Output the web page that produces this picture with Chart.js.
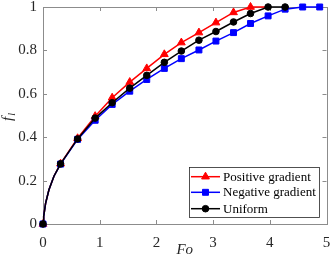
<!DOCTYPE html>
<html lang="en">
<head>
<meta charset="UTF-8">
<title>Fo vs fl</title>
<script src="https://cdn.jsdelivr.net/npm/chart.js"></script>
<style>
  html, body { margin: 0; padding: 0; background: #fff; }
  #wrap { width: 332px; height: 265px; }
</style>
</head>
<body>
<div id="wrap"><canvas id="chart" width="332" height="265"></canvas></div>
<script>
// early part of the curve (no markers), same for all three cases
const foStart = [0, 0.012, 0.047, 0.105, 0.193];
const fStart = [0, 0.035, 0.097, 0.158, 0.22];

// Fo values where points sit
const foMarks = [0, 0.31, 0.61, 0.92, 1.22, 1.53, 1.83, 2.14, 2.44, 2.75, 3.05, 3.36, 3.66, 3.97, 4.27, 4.58, 4.88];

const positive = [0, 0.278, 0.395, 0.497, 0.582, 0.654, 0.717, 0.782, 0.836, 0.882, 0.928, 0.975, 1.0, 1.0];
const negative = [0, 0.276, 0.39, 0.478, 0.551, 0.612, 0.666, 0.717, 0.762, 0.802, 0.843, 0.882, 0.924, 0.959, 0.99, 1.0, 1.0];
const uniform  = [0, 0.277, 0.392, 0.488, 0.559, 0.626, 0.685, 0.745, 0.797, 0.847, 0.887, 0.931, 0.970, 1.0, 1.0];

// how many of each series' points carry a marker
const positiveMarked = 13;
const negativeMarked = 17;
const uniformMarked = 15;

const xTicks = [0, 1, 2, 3, 4, 5];
const yTicks = [0, 0.2, 0.4, 0.6, 0.8, 1];
const yTickLabels = ['0', '0.2', '0.4', '0.6', '0.8', '1'];

const serif = "'Liberation Serif', 'Times New Roman', serif";
Chart.defaults.font.family = serif;

function buildPoints(values, marked) {
    const pts = foStart.map((x, i) => ({ x: x, y: fStart[i], m: i === 0 }));
    values.forEach((v, i) => {
        if (i > 0) pts.push({ x: foMarks[i], y: v, m: i < marked });
    });
    return pts;
}

function series(label, values, marked, color, style, r, order) {
    return {
        label: label,
        data: buildPoints(values, marked),
        borderColor: color,
        backgroundColor: color,
        borderWidth: 1.5,
        pointStyle: style,
        pointRadius: ctx => (ctx.raw && ctx.raw.m ? r : 0),
        pointBorderWidth: 1,
        pointHoverRadius: 0,
        markerRadius: r,
        tension: 0,
        clip: false,
        order: order
    };
}

// box, inward ticks, axis titles, legend
const framePlugin = {
    id: 'frame',
    beforeDatasetsDraw(chart) {
        const { ctx, chartArea: a, scales } = chart;
        ctx.save();
        ctx.strokeStyle = '#8c8c8c';
        ctx.lineWidth = 1;
        ctx.strokeRect(Math.round(a.left) + 0.5, Math.round(a.top) + 0.5,
            Math.round(a.right - a.left), Math.round(a.bottom - a.top));
        ctx.beginPath();
        xTicks.forEach(t => {
            const x = Math.round(scales.x.getPixelForValue(t)) + 0.5;
            ctx.moveTo(x, a.bottom); ctx.lineTo(x, a.bottom - 4);
            ctx.moveTo(x, a.top); ctx.lineTo(x, a.top + 4);
        });
        yTicks.forEach(t => {
            const y = Math.round(scales.y.getPixelForValue(t)) + 0.5;
            ctx.moveTo(a.left, y); ctx.lineTo(a.left + 4, y);
            ctx.moveTo(a.right, y); ctx.lineTo(a.right - 4, y);
        });
        ctx.stroke();
        ctx.restore();
    },
    afterDraw(chart) {
        const { ctx, chartArea: a } = chart;
        ctx.save();
        ctx.fillStyle = '#262626';
        ctx.font = 'italic 15px ' + serif;
        ctx.textAlign = 'center';
        ctx.textBaseline = 'middle';
        ctx.fillText('Fo', (a.left + a.right) / 2, 250);
        ctx.translate(8, 116);
        ctx.rotate(-Math.PI / 2);
        ctx.textAlign = 'left';
        ctx.textBaseline = 'alphabetic';
        ctx.font = 'italic 15px ' + serif;
        const fw = ctx.measureText('f').width;
        ctx.fillText('f', -5, 4);
        ctx.font = 'italic 10px ' + serif;
        ctx.fillText('l', -5 + fw + 1, 7);
        ctx.restore();

        const box = { x: 189, y: 167, w: 130, h: 50 };
        const rows = [176.7, 192.3, 208.7];
        ctx.save();
        ctx.fillStyle = '#fff';
        ctx.fillRect(box.x, box.y, box.w, box.h);
        ctx.strokeStyle = '#262626';
        ctx.lineWidth = 0.8;
        ctx.strokeRect(box.x + 0.5, box.y + 0.5, box.w, box.h);
        [0, 1, 2].forEach((di, k) => {
            const ds = chart.data.datasets[di];
            const y = rows[k];
            ctx.strokeStyle = ds.borderColor;
            ctx.fillStyle = ds.backgroundColor;
            ctx.lineWidth = 1.5;
            ctx.beginPath();
            ctx.moveTo(191, y); ctx.lineTo(220, y);
            ctx.stroke();
            ctx.lineWidth = 1;
            Chart.helpers.drawPoint(ctx, {
                pointStyle: ds.pointStyle,
                radius: ds.markerRadius,
                rotation: 0,
                borderWidth: 1
            }, 205.5, y);
            ctx.fillStyle = '#000';
            ctx.font = '13px ' + serif;
            ctx.textAlign = 'left';
            ctx.textBaseline = 'middle';
            ctx.fillText(ds.label, 223, y + 0.5);
        });
        ctx.restore();
    }
};

new Chart(document.getElementById('chart'), {
    type: 'line',
    data: {
        datasets: [
            series('Positive gradient', positive, positiveMarked, '#ff0000', 'triangle', 4.5, 3),
            series('Negative gradient', negative, negativeMarked, '#0000ff', 'rect', 4.2, 2),
            series('Uniform', uniform, uniformMarked, '#000000', 'circle', 3.3, 1)
        ]
    },
    options: {
        responsive: false,
        animation: false,
        events: [],
        layout: { padding: { top: 7, right: 4, left: 0, bottom: 0 } },
        plugins: { legend: { display: false }, tooltip: { enabled: false } },
        scales: {
            x: {
                type: 'linear',
                min: 0, max: 5,
                afterBuildTicks: s => { s.ticks = xTicks.map(v => ({ value: v })); },
                afterFit: s => { s.height = 41; s.paddingLeft = 0; s.paddingRight = 0; },
                grid: { display: false, drawTicks: false },
                border: { display: false },
                ticks: { padding: 10, color: '#262626', font: { family: serif, size: 15 }, maxRotation: 0,
                         callback: v => String(v) }
            },
            y: {
                type: 'linear',
                min: 0, max: 1,
                afterBuildTicks: s => { s.ticks = yTicks.map(v => ({ value: v })); },
                afterFit: s => { s.width = 43; s.paddingTop = 0; s.paddingBottom = 0; },
                grid: { display: false, drawTicks: false },
                border: { display: false },
                ticks: { padding: 6, color: '#262626', font: { family: serif, size: 15 },
                         callback: (v, i) => yTickLabels[i] }
            }
        }
    },
    plugins: [framePlugin]
});
</script>
</body>
</html>
